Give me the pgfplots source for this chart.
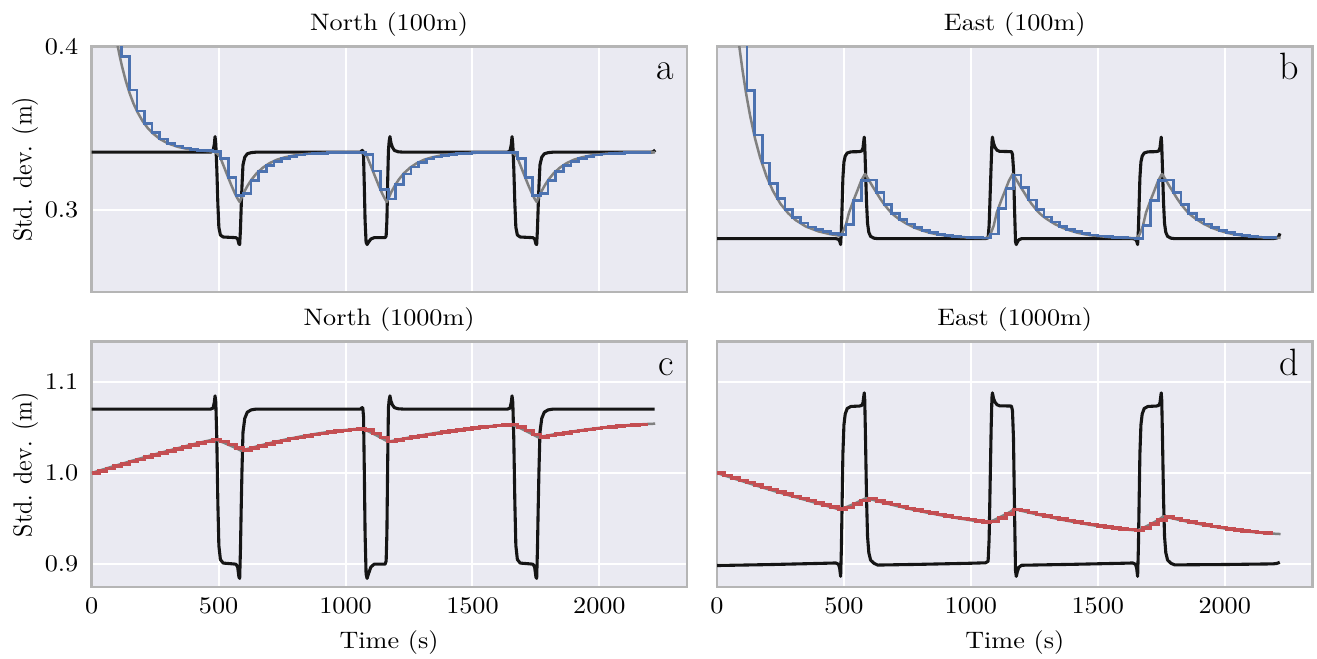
\documentclass[border=0pt]{standalone}
\usepackage{fontspec}
\usepackage{pgfplots}
\pgfplotsset{compat=1.18}
\definecolor{bgc}{HTML}{EAEAF2}
\definecolor{spinec}{HTML}{B5B5B5}
\definecolor{sblue}{HTML}{4C72B0}
\definecolor{sred}{HTML}{C44E52}
\definecolor{sgray}{HTML}{808080}
\definecolor{sblack}{HTML}{151515}
\pgfplotsset{
  panel/.style={
    scale only axis, width=250pt, height=103pt,
    anchor=north west,
    xmin=0, xmax=2345,
    axis background/.style={fill=bgc},
    axis line style={draw=spinec, line width=1.05pt},
    grid=major,
    major grid style={draw=white, line width=0.84pt},
    major tick length=0pt,
    xtick={0,500,1000,1500,2000},
    tick label style={inner sep=0pt, font=\fontsize{10}{12}\selectfont, xscale=1.1},
    yticklabel style={anchor=east, xshift=-4.9pt},
    xticklabel style={anchor=north, yshift=-4.3pt},
  },
  blk/.style={sblack, line width=1.3pt, line join=round},
  gry/.style={sgray, line width=1.05pt, line join=round},
  blu/.style={sblue, line width=1.15pt, const plot mark left},
  rd/.style={sred, line width=1.45pt, const plot mark left},
}
\begin{document}
\begin{tikzpicture}
\path[use as bounding box] (0,0) rectangle (553.14pt,-276.36pt);
% ---------------- panel a ----------------
\begin{axis}[panel, at={(38.51pt,-19.61pt)}, ymin=0.25, ymax=0.4,
  ytick={0.3,0.4}, yticklabels={0.3,0.4}, xticklabels={}]
\addplot[blk] coordinates {(0,0.3355)(468,0.3355)(478,0.3362)(483,0.3402)(486,0.3450)(489,0.3402)(493,0.3250)(497,0.3041)(501,0.2895)(507,0.2848)(518,0.2836)(568,0.2832)(575,0.2824)(580,0.2794)(583,0.2790)(586,0.2879)(589,0.3020)(592,0.3146)(596,0.3277)(603,0.3324)(613,0.3345)(628,0.3352)(648,0.3355)
(1058,0.3355)(1065,0.3365)(1068,0.3365)(1071,0.3329)(1074,0.3146)(1077,0.2937)(1081,0.2803)(1085,0.2790)(1090,0.2803)(1100,0.2824)(1113,0.2832)(1156,0.2832)(1160,0.2842)(1163,0.2937)(1166,0.3172)(1169,0.3365)(1172,0.3422)(1175,0.3450)(1179,0.3412)(1185,0.3384)(1193,0.3365)(1208,0.3357)(1228,0.3355)
(1638,0.3355)(1648,0.3362)(1653,0.3402)(1656,0.3450)(1659,0.3402)(1663,0.3250)(1667,0.3041)(1671,0.2895)(1677,0.2848)(1688,0.2836)(1738,0.2832)(1745,0.2824)(1750,0.2794)(1753,0.2790)(1756,0.2879)(1759,0.3020)(1762,0.3146)(1766,0.3277)(1773,0.3324)(1783,0.3345)(1798,0.3352)(1818,0.3355)
(2205,0.3355)(2213,0.3358)(2220,0.3368)};
\addplot[gry] coordinates {(90,0.4114)(100,0.4024)(110,0.3946)(120,0.3876)(135,0.3787)(150,0.3713)(165,0.3651)(180,0.3601)(200,0.3546)(220,0.3504)(240,0.3471)(270,0.3434)(300,0.3409)(340,0.3387)(380,0.3374)(430,0.3365)(483,0.3358)
(495,0.3345)(505,0.3328)(520,0.3270)(535,0.3211)(550,0.3153)(565,0.3100)(575,0.3070)(583,0.3050)(600,0.3110)(615,0.3152)(630,0.3188)(650,0.3226)(675,0.3261)(700,0.3287)(730,0.3309)(760,0.3323)(800,0.3336)(850,0.3345)(920,0.3351)(1000,0.3353)(1063,0.3354)
(1075,0.3345)(1085,0.3328)(1100,0.3270)(1115,0.3211)(1130,0.3153)(1145,0.3100)(1155,0.3070)(1163,0.3050)(1180,0.3110)(1195,0.3152)(1210,0.3188)(1230,0.3226)(1255,0.3261)(1280,0.3287)(1310,0.3309)(1340,0.3323)(1380,0.3336)(1430,0.3345)(1500,0.3351)(1580,0.3353)(1653,0.3354)
(1665,0.3345)(1675,0.3328)(1690,0.3270)(1705,0.3211)(1720,0.3153)(1735,0.3100)(1745,0.3070)(1753,0.3050)(1770,0.3110)(1785,0.3152)(1800,0.3188)(1820,0.3226)(1845,0.3261)(1870,0.3287)(1900,0.3309)(1930,0.3323)(1970,0.3336)(2020,0.3345)(2090,0.3351)(2170,0.3353)(2220,0.3353)};
\addplot[blu] coordinates {(88,0.45)(118,0.394)(148,0.3735)(178,0.3606)(208,0.3528)(238,0.3474)(268,0.3436)(298,0.3410)(328,0.3393)(358,0.3380)(388,0.3372)(418,0.3367)(448,0.3363)(478,0.3360)
(508,0.3316)(538,0.3199)(568,0.3091)(598,0.3103)(628,0.3183)(658,0.3237)(688,0.3275)(718,0.3300)(748,0.3317)(778,0.3329)(808,0.3337)(838,0.3343)(868,0.3347)(898,0.3349)(928,0.3351)(958,0.3352)(988,0.3353)(1018,0.3353)(1048,0.3354)
(1078,0.3340)(1108,0.3239)(1138,0.3125)(1168,0.3068)(1198,0.3159)(1228,0.3222)(1258,0.3264)(1288,0.3293)(1318,0.3313)(1348,0.3325)(1378,0.3335)(1408,0.3341)(1438,0.3346)(1468,0.3348)(1498,0.3351)(1528,0.3352)(1558,0.3352)(1588,0.3353)(1618,0.3354)(1648,0.3354)
(1678,0.3316)(1708,0.3199)(1738,0.3091)(1768,0.3103)(1798,0.3183)(1828,0.3237)(1858,0.3275)(1888,0.3300)(1918,0.3317)(1948,0.3329)(1978,0.3337)(2008,0.3343)(2038,0.3347)(2068,0.3349)(2098,0.3351)(2128,0.3352)(2158,0.3353)(2188,0.3353)(2205,0.3353)};
\end{axis}
% ---------------- panel b ----------------
\begin{axis}[panel, at={(301.14pt,-19.61pt)}, ymin=0.25, ymax=0.4,
  ytick={0.3,0.4}, yticklabels={}, xticklabels={}]
\addplot[blk] coordinates {(0,0.2826)(468,0.2826)(478,0.2822)(483,0.2812)(487,0.2790)(490,0.2879)(493,0.3039)(496,0.3198)(500,0.3294)(505,0.3331)(513,0.3350)(528,0.3357)(560,0.3358)(570,0.3362)(575,0.3380)(580,0.3447)(582,0.3400)(585,0.3250)(589,0.3050)(593,0.2920)(598,0.2865)(605,0.2840)(618,0.2829)(633,0.2826)
(1058,0.2826)(1068,0.2831)(1072,0.2906)(1076,0.3092)(1080,0.3278)(1083,0.3411)(1085,0.3447)(1089,0.3411)(1095,0.3385)(1103,0.3367)(1113,0.3360)(1160,0.3358)(1164,0.3342)(1168,0.3252)(1172,0.3012)(1176,0.2808)(1179,0.2790)(1183,0.2804)(1189,0.2819)(1200,0.2826)
(1638,0.2826)(1648,0.2822)(1653,0.2812)(1657,0.2790)(1660,0.2879)(1663,0.3039)(1666,0.3198)(1670,0.3294)(1675,0.3331)(1683,0.3350)(1698,0.3357)(1730,0.3358)(1740,0.3362)(1745,0.3380)(1750,0.3447)(1752,0.3400)(1755,0.3250)(1759,0.3050)(1763,0.2920)(1768,0.2865)(1775,0.2840)(1788,0.2829)(1803,0.2826)
(2190,0.2826)(2205,0.2830)(2213,0.2840)(2218,0.2858)};
\addplot[gry] coordinates {(80,0.4103)(90,0.3976)(100,0.3861)(115,0.3710)(130,0.3581)(150,0.3437)(170,0.3321)(195,0.3207)(220,0.3119)(250,0.3039)(280,0.2982)(310,0.2939)(350,0.2900)(400,0.2870)(450,0.2852)(483,0.2844)
(495,0.2865)(508,0.2913)(520,0.2985)(538,0.3061)(553,0.3120)(568,0.3180)(583,0.3222)(598,0.3185)(613,0.3145)(628,0.3108)(643,0.3070)(658,0.3037)(673,0.3008)(688,0.2982)(703,0.2962)(718,0.2945)(748,0.2916)(778,0.2893)(808,0.2876)(838,0.2862)(868,0.2852)(898,0.2845)(958,0.2836)(1018,0.2831)(1065,0.2829)
(1077,0.2852)(1090,0.2905)(1102,0.2985)(1120,0.3061)(1135,0.3120)(1150,0.3180)(1165,0.3222)(1180,0.3185)(1195,0.3145)(1210,0.3108)(1225,0.3070)(1240,0.3037)(1255,0.3008)(1270,0.2982)(1285,0.2962)(1300,0.2945)(1330,0.2916)(1360,0.2893)(1390,0.2876)(1420,0.2862)(1450,0.2852)(1480,0.2845)(1540,0.2836)(1600,0.2831)(1653,0.2829)
(1665,0.2852)(1678,0.2905)(1690,0.2985)(1708,0.3061)(1723,0.3120)(1738,0.3180)(1753,0.3222)(1768,0.3185)(1783,0.3145)(1798,0.3108)(1813,0.3070)(1828,0.3037)(1843,0.3008)(1858,0.2982)(1873,0.2962)(1888,0.2945)(1918,0.2916)(1948,0.2893)(1978,0.2876)(2008,0.2862)(2038,0.2852)(2068,0.2845)(2128,0.2836)(2188,0.2831)(2220,0.2830)};
\addplot[blu] coordinates {(88,0.45)(118,0.3733)(148,0.3460)(178,0.3288)(208,0.3162)(238,0.3073)(268,0.3004)(298,0.2955)(328,0.2922)(358,0.2897)(388,0.2880)(418,0.2868)(448,0.2858)(478,0.2850)
(508,0.2913)(538,0.3061)(568,0.3180)(598,0.3185)(628,0.3108)(658,0.3037)(688,0.2982)(718,0.2945)(748,0.2916)(778,0.2893)(808,0.2876)(838,0.2862)(868,0.2852)(898,0.2845)(928,0.2840)(958,0.2836)(988,0.2833)(1018,0.2831)(1048,0.2830)
(1078,0.2854)(1108,0.3010)(1138,0.3132)(1168,0.3215)(1198,0.3138)(1228,0.3063)(1258,0.3003)(1288,0.2959)(1318,0.2928)(1348,0.2902)(1378,0.2883)(1408,0.2868)(1438,0.2858)(1468,0.2849)(1498,0.2842)(1528,0.2838)(1558,0.2835)(1588,0.2832)(1618,0.2830)(1648,0.2829)
(1678,0.2905)(1708,0.3061)(1738,0.3180)(1768,0.3185)(1798,0.3108)(1828,0.3037)(1858,0.2982)(1888,0.2945)(1918,0.2916)(1948,0.2893)(1978,0.2876)(2008,0.2862)(2038,0.2852)(2068,0.2845)(2098,0.2840)(2128,0.2836)(2158,0.2833)(2188,0.2831)(2205,0.2831)};
\end{axis}
% ---------------- panel c ----------------
\begin{axis}[panel, at={(38.51pt,-143.51pt)}, ymin=0.875, ymax=1.144,
  ytick={0.9,1.0,1.1}, yticklabels={0.9,1.0,1.1},
  xticklabels={0,500,1000,1500,2000}]
\addplot[blk] coordinates {(0,1.0701)(468,1.0701)(478,1.0711)(483,1.0774)(486,1.0846)(489,1.0774)(493,1.0361)(497,0.9680)(501,0.9204)(507,0.9051)(518,0.9012)(568,0.9000)(575,0.8969)(580,0.8860)(583,0.8844)(586,0.9153)(589,0.9612)(592,1.0021)(596,1.0446)(603,1.0599)(613,1.0667)(628,1.0692)(648,1.0701)
(1058,1.0701)(1065,1.0716)(1068,1.0716)(1071,1.0616)(1074,1.0021)(1077,0.9340)(1081,0.8891)(1085,0.8844)(1090,0.8891)(1100,0.8969)(1113,0.9000)(1156,0.9000)(1160,0.9034)(1163,0.9340)(1166,1.0106)(1169,1.0716)(1172,1.0803)(1175,1.0846)(1179,1.0788)(1185,1.0745)(1193,1.0716)(1208,1.0704)(1228,1.0701)
(1638,1.0701)(1648,1.0711)(1653,1.0774)(1656,1.0846)(1659,1.0774)(1663,1.0361)(1667,0.9680)(1671,0.9204)(1677,0.9051)(1688,0.9012)(1738,0.9000)(1745,0.8969)(1750,0.8860)(1753,0.8844)(1756,0.9153)(1759,0.9612)(1762,1.0021)(1766,1.0446)(1773,1.0599)(1783,1.0667)(1798,1.0692)(1818,1.0701)
(2218,1.0701)};
\addplot[gry] coordinates {(0,1.0000)(60,1.0052)(120,1.0102)(180,1.0151)(240,1.0198)(300,1.0243)(360,1.0287)(420,1.0329)(483,1.0370)(500,1.0355)(520,1.0332)(540,1.0308)(560,1.0283)(575,1.0263)(588,1.0245)(648,1.0290)(708,1.0332)(768,1.0370)(828,1.0403)(888,1.0432)(948,1.0456)(1008,1.0474)(1063,1.0488)(1080,1.0470)(1100,1.0443)(1120,1.0415)(1140,1.0385)(1155,1.0362)(1168,1.0343)(1228,1.0377)(1288,1.0408)(1348,1.0436)(1408,1.0461)(1468,1.0483)(1528,1.0502)(1588,1.0518)(1653,1.0530)(1670,1.0514)(1690,1.0489)(1710,1.0462)(1730,1.0434)(1745,1.0412)(1758,1.0392)(1818,1.0422)(1878,1.0449)(1938,1.0473)(1998,1.0494)(2058,1.0512)(2118,1.0526)(2178,1.0536)(2220,1.0541)};
\addplot[rd] coordinates {(0,1.0000)(28,1.0024)(58,1.0050)(88,1.0076)(118,1.0100)(148,1.0125)(178,1.0149)(208,1.0173)(238,1.0196)(268,1.0219)(298,1.0241)(328,1.0264)(358,1.0286)(388,1.0307)(418,1.0328)(448,1.0348)(478,1.0367)
(508,1.0346)(538,1.0310)(568,1.0274)(598,1.0253)(628,1.0275)(658,1.0297)(688,1.0318)(718,1.0338)(748,1.0357)(778,1.0376)(808,1.0392)(838,1.0408)(868,1.0422)(898,1.0436)(928,1.0448)(958,1.0459)(988,1.0468)(1018,1.0477)(1048,1.0484)
(1078,1.0472)(1108,1.0432)(1138,1.0388)(1168,1.0343)(1198,1.0360)(1228,1.0377)(1258,1.0393)(1288,1.0408)(1318,1.0422)(1348,1.0436)(1378,1.0449)(1408,1.0461)(1438,1.0472)(1468,1.0483)(1498,1.0493)(1528,1.0502)(1558,1.0510)(1588,1.0518)(1618,1.0524)(1648,1.0529)
(1678,1.0504)(1708,1.0465)(1738,1.0422)(1768,1.0397)(1798,1.0412)(1828,1.0427)(1858,1.0440)(1888,1.0453)(1918,1.0465)(1948,1.0477)(1978,1.0487)(2008,1.0497)(2038,1.0506)(2068,1.0514)(2098,1.0521)(2128,1.0528)(2158,1.0533)(2192,1.0533)};
\end{axis}
% ---------------- panel d ----------------
\begin{axis}[panel, at={(301.14pt,-143.51pt)}, ymin=0.875, ymax=1.144,
  ytick={0.9,1.0,1.1}, yticklabels={},
  xticklabels={0,500,1000,1500,2000}]
\addplot[blk] coordinates {(0,0.8985)(200,0.8995)(400,0.9008)(468,0.9013)(478,0.9000)(483,0.8960)(487,0.8866)(490,0.9173)(493,0.9694)(496,1.0214)(500,1.0526)(505,1.0647)(513,1.0708)(528,1.0730)(560,1.0734)(570,1.0741)(575,1.0770)(580,1.0879)(582,1.0802)(585,1.0382)(589,0.9730)(593,0.9307)(598,0.9127)(605,0.9045)(618,0.9010)(633,0.8990)(800,0.8998)(1000,0.9010)(1058,0.9015)
(1068,0.9032)(1072,0.9275)(1076,0.9882)(1080,1.0489)(1083,1.0821)(1085,1.0879)(1089,1.0821)(1095,1.0778)(1103,1.0749)(1113,1.0737)(1160,1.0734)(1164,1.0682)(1168,1.0377)(1172,0.9597)(1176,0.8928)(1179,0.8866)(1183,0.8916)(1189,0.8965)(1200,0.8988)(1400,0.8998)(1600,0.9010)(1638,0.9013)
(1648,0.9000)(1653,0.8960)(1657,0.8866)(1660,0.9173)(1663,0.9694)(1666,1.0214)(1670,1.0526)(1675,1.0647)(1683,1.0708)(1698,1.0730)(1730,1.0734)(1740,1.0741)(1745,1.0770)(1750,1.0879)(1752,1.0802)(1755,1.0382)(1759,0.9730)(1763,0.9307)(1768,0.9127)(1775,0.9045)(1788,0.9010)(1803,0.8992)(2000,0.8996)(2190,0.9003)(2205,0.9008)(2217,0.9020)};
\addplot[gry] coordinates {(0,1.0000)(60,0.9945)(120,0.9892)(180,0.9840)(240,0.9790)(300,0.9742)(360,0.9695)(420,0.9648)(483,0.9600)(500,0.9615)(520,0.9638)(540,0.9662)(560,0.9688)(575,0.9708)(588,0.9725)(648,0.9680)(708,0.9638)(768,0.9600)(828,0.9565)(888,0.9533)(948,0.9504)(1008,0.9478)(1065,0.9456)(1082,0.9472)(1102,0.9498)(1122,0.9526)(1142,0.9554)(1157,0.9577)(1170,0.9605)(1230,0.9565)(1290,0.9527)(1350,0.9492)(1410,0.9460)(1470,0.9431)(1530,0.9405)(1590,0.9385)(1653,0.9370)(1670,0.9386)(1690,0.9413)(1710,0.9442)(1730,0.9472)(1745,0.9497)(1758,0.9525)(1818,0.9487)(1878,0.9452)(1938,0.9420)(1998,0.9392)(2058,0.9368)(2118,0.9350)(2178,0.9337)(2220,0.9330)};
\addplot[rd] coordinates {(0,1.0000)(28,0.9974)(58,0.9947)(88,0.9920)(118,0.9894)(148,0.9868)(178,0.9842)(208,0.9817)(238,0.9792)(268,0.9768)(298,0.9744)(328,0.9720)(358,0.9697)(388,0.9673)(418,0.9650)(448,0.9627)(478,0.9604)
(508,0.9624)(538,0.9660)(568,0.9698)(598,0.9718)(628,0.9695)(658,0.9673)(688,0.9652)(718,0.9632)(748,0.9613)(778,0.9594)(808,0.9577)(838,0.9560)(868,0.9544)(898,0.9528)(928,0.9514)(958,0.9500)(988,0.9487)(1018,0.9474)(1048,0.9462)
(1078,0.9468)(1108,0.9506)(1138,0.9548)(1168,0.9601)(1198,0.9586)(1228,0.9566)(1258,0.9547)(1288,0.9528)(1318,0.9511)(1348,0.9493)(1378,0.9477)(1408,0.9461)(1438,0.9446)(1468,0.9432)(1498,0.9419)(1528,0.9406)(1558,0.9396)(1588,0.9386)(1618,0.9378)(1648,0.9371)
(1678,0.9397)(1708,0.9439)(1738,0.9485)(1768,0.9519)(1798,0.9500)(1828,0.9481)(1858,0.9464)(1888,0.9447)(1918,0.9431)(1948,0.9415)(1978,0.9401)(2008,0.9388)(2038,0.9376)(2068,0.9365)(2098,0.9356)(2128,0.9348)(2158,0.9341)(2192,0.9341)};
\end{axis}
% ---------------- texts ----------------
\tikzset{lab/.style={anchor=base, inner sep=0pt, font=\fontsize{10}{12}\selectfont}}
\node[lab, xscale=1.1] at (163.4pt,-12.6pt) {North (100m)};
\node[lab, xscale=1.1] at (426.2pt,-12.6pt) {East (100m)};
\node[lab, xscale=1.1] at (163.4pt,-136.5pt) {North (1000m)};
\node[lab, xscale=1.1] at (426.2pt,-136.5pt) {East (1000m)};
\node[lab, xscale=1.1] at (163.4pt,-272.3pt) {Time (s)};
\node[lab, xscale=1.1] at (426.2pt,-272.3pt) {Time (s)};
\node[lab, xscale=1.1, rotate=90] at (13.3pt,-71.1pt) {Std. dev. (m)};
\node[lab, xscale=1.1, rotate=90] at (13.3pt,-195.2pt) {Std. dev. (m)};
\tikzset{plet/.style={anchor=base east, inner sep=0pt, font=\fontsize{16}{19}\selectfont}}
\node[plet] at (283.1pt,-33.3pt) {a};
\node[plet] at (545.7pt,-33.3pt) {b};
\node[plet] at (283.1pt,-157.5pt) {c};
\node[plet] at (545.7pt,-157.5pt) {d};
\end{tikzpicture}
\end{document}
